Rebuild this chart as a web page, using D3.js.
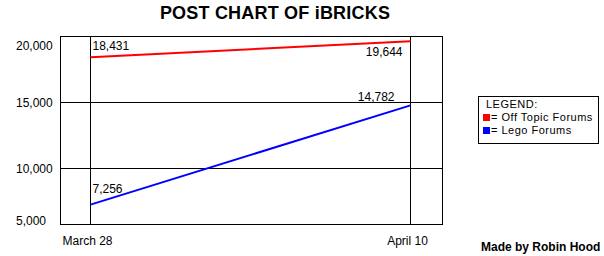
<!DOCTYPE html>
<html>
<head>
<meta charset="utf-8">
<title>Post Chart of iBRICKS</title>
<script src="https://cdn.jsdelivr.net/npm/d3@7"></script>
<style>
  body { margin: 0; background: #fff; }
  svg { display: block; font-family: Arial, "Liberation Sans", sans-serif; }
  .lbl { font-size: 12px; fill: #000; }
  .leg { font-size: 11px; letter-spacing: 0.5px; fill: #000; }
  .title { font-size: 18px; font-weight: bold; letter-spacing: 0.2px; }
  .credit { font-size: 12px; font-weight: bold; }
</style>
</head>
<body>
<div id="chart"></div>
<script>
// data
const dates = ["March 28", "April 10"];
const offTopic = [18431, 19644];
const lego = [7256, 14782];
const yTicks = [5000, 10000, 15000, 20000];
const seriesNames = ["Off Topic Forums", "Lego Forums"];
const seriesColors = ["#ff0000", "#0000ff"];

const W = 604, H = 256;
const box = { left: 60.5, right: 442.5, top: 36.5, bottom: 224.5 };

const svg = d3.select("#chart").append("svg")
  .attr("width", W).attr("height", H);

const x = d3.scalePoint().domain(dates).range([90.5, 410.5]).padding(0);
const y = d3.scaleLinear().domain([5750, 20000]).range([box.bottom, box.top]);

// title
svg.append("text").attr("class", "title")
  .attr("x", 275).attr("y", 18.5).attr("text-anchor", "middle")
  .text("POST CHART OF iBRICKS");

// frame
svg.append("rect")
  .attr("x", box.left).attr("y", box.top)
  .attr("width", box.right - box.left).attr("height", box.bottom - box.top)
  .attr("fill", "none").attr("stroke", "#000");

// horizontal grid (inside ticks only)
const [d0, d1] = y.domain();
svg.selectAll(".hgrid").data(yTicks.filter(t => t > d0 && t < d1))
  .join("line").attr("class", "hgrid")
  .attr("x1", box.left).attr("x2", box.right)
  .attr("y1", d => Math.round(y(d)) + 0.5).attr("y2", d => Math.round(y(d)) + 0.5)
  .attr("stroke", "#000");

// vertical date lines
svg.selectAll(".vgrid").data(dates)
  .join("line").attr("class", "vgrid")
  .attr("x1", d => x(d)).attr("x2", d => x(d))
  .attr("y1", box.top).attr("y2", box.bottom)
  .attr("stroke", "#000");

// y labels, pulled inside at the ends
const fmt = d3.format(",");
svg.selectAll(".ylab").data(yTicks)
  .join("text").attr("class", "lbl ylab")
  .attr("x", 16)
  .attr("y", d => Math.min(Math.max(y(d), box.top + 9.5), box.bottom - 4))
  .attr("dy", "0.35em")
  .text(d => fmt(d));

// x labels
svg.selectAll(".xlab").data(dates)
  .join("text").attr("class", "lbl xlab")
  .attr("x", d => x(d) - 3).attr("y", 245)
  .attr("text-anchor", "middle")
  .text(d => d);

// series lines
const series = [offTopic, lego];
const line = d3.line().x((d, i) => x(dates[i])).y(d => y(d));
svg.selectAll(".series").data(series)
  .join("path").attr("class", "series")
  .attr("d", line)
  .attr("fill", "none")
  .attr("stroke", (d, i) => seriesColors[i])
  .attr("stroke-width", 2);

// point labels: start labels sit above-right, end labels sit left of the point
const startDy = [-7, -12];
const endDy = [15, -4];
series.forEach((s, i) => {
  svg.append("text").attr("class", "lbl")
    .attr("x", x(dates[0]) + 2).attr("y", y(s[0]) + startDy[i])
    .text(fmt(s[0]));
  svg.append("text").attr("class", "lbl")
    .attr("x", x(dates[1]) - 8 - i * 8).attr("y", y(s[1]) + endDy[i])
    .attr("text-anchor", "end")
    .text(fmt(s[1]));
});

// legend
const lg = svg.append("g");
lg.append("rect").attr("x", 478.5).attr("y", 96.5)
  .attr("width", 120).attr("height", 47)
  .attr("fill", "#fff").attr("stroke", "#000");
lg.append("text").attr("class", "leg").attr("x", 486).attr("y", 108).text("LEGEND:");
seriesNames.forEach((n, i) => {
  const yy = 121 + i * 13;
  lg.append("rect").attr("x", 483).attr("y", yy - 7).attr("width", 7).attr("height", 7)
    .attr("fill", seriesColors[i]);
  lg.append("text").attr("class", "leg").attr("x", 491).attr("y", yy).text("= " + n);
});

// credit
svg.append("text").attr("class", "credit")
  .attr("x", 481).attr("y", 251)
  .text("Made by Robin Hood");
</script>
</body>
</html>
